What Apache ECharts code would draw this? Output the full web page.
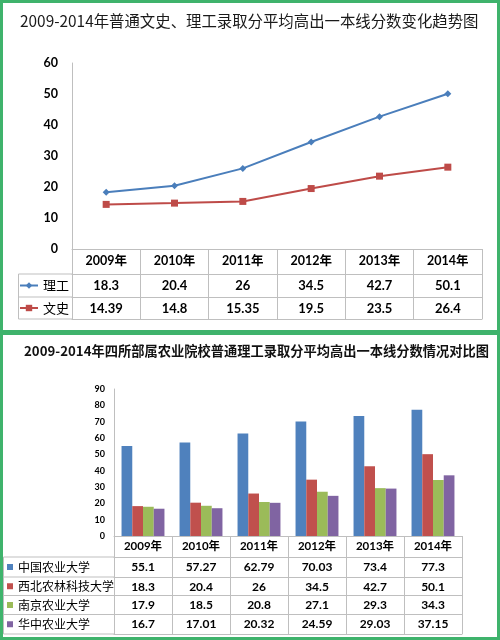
<!DOCTYPE html>
<html>
<head>
<meta charset="utf-8">
<script src="https://cdn.jsdelivr.net/npm/echarts@6/dist/echarts.min.js"></script>
<style>
  html, body { margin: 0; padding: 0; background: #fff; }
  #c { width: 500px; height: 640px; }
</style>
</head>
<body>
<div id="c"></div>
<script>
// ---- data ----
const years = ['2009年', '2010年', '2011年', '2012年', '2013年', '2014年'];
const lineNames = ['理工', '文史'];
const ligong = [18.3, 20.4, 26, 34.5, 42.7, 50.1];
const wenshi = [14.39, 14.8, 15.35, 19.5, 23.5, 26.4];

const schools = ['中国农业大学', '西北农林科技大学', '南京农业大学', '华中农业大学'];
const cau = [55.1, 57.27, 62.79, 70.03, 73.4, 77.3];
const nwafu = [18.3, 20.4, 26, 34.5, 42.7, 50.1];
const njau = [17.9, 18.5, 20.8, 27.1, 29.3, 34.3];
const hzau = [16.7, 17.01, 20.32, 24.59, 29.03, 37.15];

const title1 = '2009-2014年普通文史、理工录取分平均高出一本线分数变化趋势图';
const title2 = '2009-2014年四所部属农业院校普通理工录取分平均高出一本线分数情况对比图';

// ---- styles ----
const FONT = 'Lato, "Noto Sans CJK SC", sans-serif';
const CJK = '"Noto Sans CJK SC", sans-serif';
const GRAY = '#bfbfbf';
const GREEN = '#3fb36c';
const lineColors = ['#4a7ebb', '#be4b48'];
const barColors = ['#4f81bd', '#c0504d', '#9bbb59', '#8064a2'];

const chart = echarts.init(document.getElementById('c'), null, { renderer: 'canvas' });

// layout of the two tables
const T1 = { left: 72, right: 482, top: 249, rows: [274, 297, 319] };
const T2 = { left: 114, right: 462, top: 536, rows: [557, 577, 595.5, 614.5, 634] };

function rowAxis(gridIndex, offset, values, margin, fontSize) {
  return {
    type: 'category', gridIndex: gridIndex, data: years, position: 'bottom', offset: offset,
    axisLine: { show: true, lineStyle: { color: GRAY, width: 1 } },
    axisTick: { show: false },
    splitLine: { show: false },
    axisLabel: values ? {
      show: true, interval: 0, margin: margin,
      formatter: function (v, i) { return String(values[i]); },
      color: '#000', fontWeight: 'bold', fontSize: fontSize, fontFamily: FONT, lineHeight: fontSize + 2
    } : { show: false }
  };
}

const xAxes = [];
// top table
xAxes.push({
  type: 'category', gridIndex: 0, data: years, position: 'bottom', boundaryGap: true,
  axisLine: { show: true, lineStyle: { color: GRAY } },
  axisTick: { show: true, alignWithLabel: false, interval: 0, length: T1.rows[2] - T1.top, lineStyle: { color: GRAY } },
  axisLabel: { interval: 0, margin: 5, color: '#000', fontWeight: 'bold', fontSize: 12.5, fontFamily: FONT, lineHeight: 14 },
  splitLine: { show: false }
});
xAxes.push(rowAxis(0, T1.rows[0] - T1.top, ligong, 4, 13));
xAxes.push(rowAxis(0, T1.rows[1] - T1.top, wenshi, 4, 13));
xAxes.push(rowAxis(0, T1.rows[2] - T1.top, null, 0, 13));
// bottom table
xAxes.push({
  type: 'category', gridIndex: 1, data: years, position: 'bottom', boundaryGap: true,
  axisLine: { show: true, lineStyle: { color: GRAY } },
  axisTick: { show: true, alignWithLabel: false, interval: 0, length: T2.rows[4] - T2.top, lineStyle: { color: GRAY } },
  axisLabel: { interval: 0, margin: 4, color: '#000', fontWeight: 'bold', fontSize: 11.5, fontFamily: FONT, lineHeight: 13 },
  splitLine: { show: false }
});
const barData = [cau, nwafu, njau, hzau];
barData.forEach(function (arr, k) {
  xAxes.push(rowAxis(1, T2.rows[k] - T2.top, arr, 3, 12));
});
xAxes.push(rowAxis(1, T2.rows[4] - T2.top, null, 0, 12));

// left column table frame lines
const graphics = [];
function hline(x1, x2, y) {
  graphics.push({ type: 'line', silent: true, shape: { x1: x1, y1: y, x2: x2, y2: y }, style: { stroke: GRAY, lineWidth: 1 } });
}
function vline(x, y1, y2) {
  graphics.push({ type: 'line', silent: true, shape: { x1: x, y1: y1, x2: x, y2: y2 }, style: { stroke: GRAY, lineWidth: 1 } });
}
T1.rows.forEach(function (y) { hline(18.5, T1.left, y); });
vline(18.5, T1.rows[0], T1.rows[2]);
T2.rows.forEach(function (y) { hline(3.5, T2.left, y); });
vline(3.5, T2.rows[0], T2.rows[4]);

// green frames
graphics.push({ type: 'rect', silent: true, z: 100, shape: { x: 1.5, y: 1.5, width: 497, height: 637 }, style: { fill: 'none', stroke: GREEN, lineWidth: 3 } });
graphics.push({ type: 'line', silent: true, z: 100, shape: { x1: 0, y1: 332.5, x2: 500, y2: 332.5 }, style: { stroke: GREEN, lineWidth: 5 } });

// legends (as the table's left column)
const legends = [];
const rowCenters1 = [(T1.rows[0] + T1.rows[1]) / 2, (T1.rows[1] + T1.rows[2]) / 2];
lineNames.forEach(function (n, i) {
  legends.push({
    data: [n], orient: 'horizontal', left: 19, top: rowCenters1[i] - 7.5, padding: 0,
    itemWidth: 18, itemHeight: 8, selectedMode: false,
    textStyle: { fontSize: 13, color: '#000', fontFamily: CJK, lineHeight: 15 }
  });
});
schools.forEach(function (n, i) {
  const c = (T2.rows[i] + T2.rows[i + 1]) / 2;
  legends.push({
    data: [n], orient: 'horizontal', left: 7, top: c - 7, padding: 0,
    itemWidth: 6, itemHeight: 6, icon: 'rect', selectedMode: false,
    textStyle: { fontSize: 12, color: '#000', fontFamily: CJK, lineHeight: 14 }
  });
});

const series = [
  {
    name: lineNames[0], type: 'line', xAxisIndex: 0, yAxisIndex: 0, data: ligong,
    symbol: 'diamond', symbolSize: 7, color: lineColors[0],
    lineStyle: { width: 2, color: lineColors[0] }, itemStyle: { color: lineColors[0] }
  },
  {
    name: lineNames[1], type: 'line', xAxisIndex: 0, yAxisIndex: 0, data: wenshi,
    symbol: 'rect', symbolSize: 7, color: lineColors[1],
    lineStyle: { width: 2, color: lineColors[1] }, itemStyle: { color: lineColors[1] }
  }
];
barData.forEach(function (arr, k) {
  series.push({
    name: schools[k], type: 'bar', xAxisIndex: 4, yAxisIndex: 1, data: arr,
    barGap: '0%', barCategoryGap: '26%', color: barColors[k],
    itemStyle: { color: barColors[k] }
  });
});

chart.setOption({
  backgroundColor: '#ffffff',
  animation: false,
  title: [
    { text: title1, left: 20, top: 13, padding: 0,
      textStyle: { fontSize: 15.4, fontWeight: 'normal', color: '#1a1a1a', fontFamily: CJK } },
    { text: title2, left: 24, top: 344, padding: 0,
      textStyle: { fontSize: 13.25, fontWeight: 'bold', color: '#111', fontFamily: CJK } }
  ],
  legend: legends,
  grid: [
    { left: T1.left, top: 63, width: T1.right - T1.left, height: T1.top - 63, containLabel: false },
    { left: T2.left, top: 389, width: T2.right - T2.left, height: T2.top - 389, containLabel: false }
  ],
  xAxis: xAxes,
  yAxis: [
    { type: 'value', gridIndex: 0, min: 0, max: 60, interval: 10,
      axisLine: { show: true, lineStyle: { color: GRAY } }, axisTick: { show: false }, splitLine: { show: false },
      axisLabel: { margin: 14, color: '#000', fontWeight: 'bold', fontSize: 12.5, fontFamily: FONT } },
    { type: 'value', gridIndex: 1, min: 0, max: 90, interval: 10,
      axisLine: { show: true, lineStyle: { color: GRAY } }, axisTick: { show: false }, splitLine: { show: false },
      axisLabel: { margin: 9, color: '#000', fontWeight: 'bold', fontSize: 9, fontFamily: FONT } }
  ],
  graphic: graphics,
  series: series
});
</script>
</body>
</html>
